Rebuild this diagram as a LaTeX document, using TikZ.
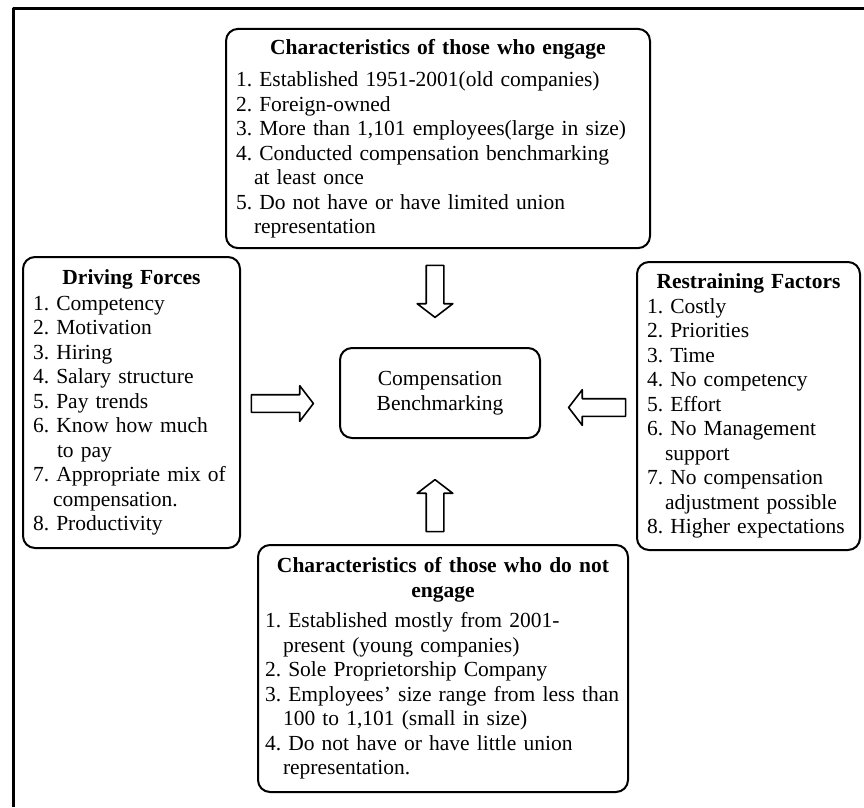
\documentclass[tikz,border=0pt]{standalone}
\usepackage{fontspec}
\setmainfont{Liberation Serif}
\usetikzlibrary{shapes.arrows}
\newcommand{\ind}{\hspace*{18pt}}
\newcommand{\boxtitle}[2][4pt]{{\centering\textbf{#2}\par}\vspace{#1}\raggedright}

\begin{document}
\frenchspacing
\begin{tikzpicture}[x=1pt,y=-1pt,line join=round,
  box/.style={draw,line width=2pt,rounded corners=12pt,inner sep=10pt,align=left,font=\fontsize{21.5}{24.5}\selectfont},
  fatarrow/.style={draw,line width=1.6pt,single arrow,single arrow head extend=9pt,single arrow tip angle=105,single arrow head indent=0pt,inner sep=8pt,minimum width=34pt}]

\useasboundingbox (0,0) rectangle (864,807);
% frame
\draw[line width=3pt] (13.5,807) -- (13.5,8.5) -- (864,8.5);

% the five boxes
\node[box,text width=404pt,minimum height=219pt] (engage) at (438,138.5) {\boxtitle[8pt]{Characteristics of those who engage}
1. Established 1951-2001(old companies)\\
2. Foreign-owned\\
3. More than 1,101 employees(large in size)\\
4. Conducted compensation benchmarking\\
\ind at least once\\
5. Do not have or have limited union\\
\ind representation};

\node[box,text width=197pt,minimum height=291pt] (driving) at (131.5,402.5) {\boxtitle[1pt]{Driving Forces}
1. Competency\\
2. Motivation\\
3. Hiring\\
4. Salary structure\\
5. Pay trends\\
6. Know how much\\
\hspace*{24pt}to pay\\
7. Appropriate mix of\\
\hspace*{20pt}compensation.\\
8. Productivity};

\node[box,text width=203pt,minimum height=288pt] (restrain) at (748.5,406) {\boxtitle[0pt]{Restraining Factors}
1. Costly\\
2. Priorities\\
3. Time\\
4. No competency\\
5. Effort\\
6. No Management\\
\ind support\\
7. No compensation\\
\ind adjustment possible\\
8. Higher expectations};

\node[box,align=center,minimum width=200pt,minimum height=90pt] (bench) at (440,393) {Compensation\\Benchmarking};

\node[box,inner xsep=7pt,text width=356pt,minimum height=247pt] (notengage) at (443,668.5) {\boxtitle[6pt]{Characteristics of those who do not\\engage}
1. Established mostly from 2001-\\
\ind present (young companies)\\
2. Sole Proprietorship Company\\
\mbox{3. Employees' size range from less than}\\
\ind 100 to 1,101 (small in size)\\
4. Do not have or have little union\\
\ind representation.};

% block arrows
\node[fatarrow,rotate=-90,minimum height=52pt] (arrtop) at (435,288) {};
\node[fatarrow,minimum height=62pt] (arrleft) at (279,403.5) {};
\node[fatarrow,rotate=180,minimum height=57pt] (arrright) at (600.5,407.5) {};
\node[fatarrow,rotate=90,minimum height=52pt] (arrbottom) at (435,509) {};
\end{tikzpicture}
\end{document}
